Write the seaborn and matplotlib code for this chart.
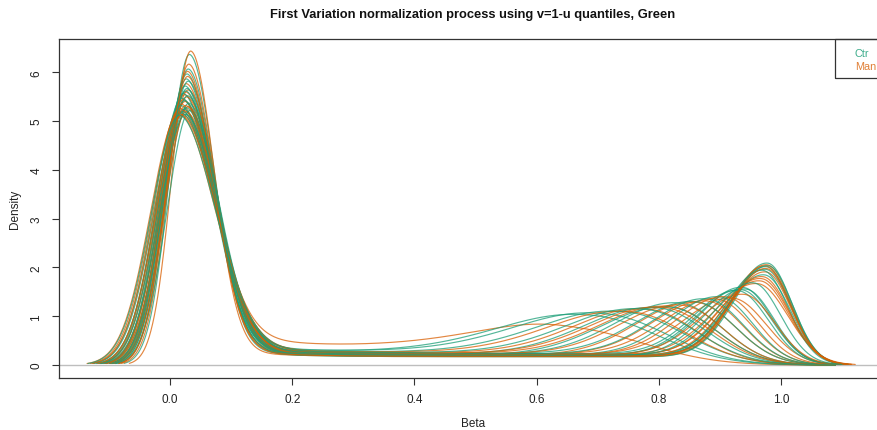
import numpy as np
import pandas as pd
import matplotlib
matplotlib.use("Agg")
import matplotlib.pyplot as plt
import seaborn as sns
from matplotlib.patches import Rectangle

# ---------------- data (per-sample density shape) ----
# Ctr samples
ctr_peak1_loc = [0.032, 0.030, 0.028, 0.027, 0.030, 0.025, 0.026, 0.022, 0.029, 0.020, 0.024,
                 0.031, 0.018, 0.027, 0.023, 0.033, 0.021, 0.019, 0.026, 0.016, 0.028]
ctr_peak1_height = [6.35, 6.05, 5.95, 5.85, 5.80, 5.70, 5.60, 5.55, 5.50, 5.45, 5.40,
                    5.35, 5.30, 5.25, 5.22, 5.20, 5.18, 5.15, 5.12, 5.10, 5.65]
ctr_peak1_width = [0.033, 0.035, 0.036, 0.037, 0.037, 0.038, 0.039, 0.040, 0.040, 0.042, 0.041,
                   0.039, 0.045, 0.041, 0.043, 0.038, 0.044, 0.045, 0.043, 0.047, 0.038]
ctr_peak2_loc = [0.978, 0.976, 0.975, 0.979, 0.973, 0.938, 0.935, 0.942, 0.930, 0.862, 0.835,
                 0.820, 0.750, 0.720, 0.700, 0.970, 0.900, 0.880, 0.800, 0.780, 0.955]
ctr_peak2_height = [2.03, 1.95, 1.90, 1.98, 1.78, 1.52, 1.48, 1.50, 1.45, 1.22, 1.20,
                    1.12, 1.00, 0.95, 0.92, 1.88, 1.33, 1.28, 1.10, 1.06, 1.62]
ctr_peak2_width = [0.040, 0.041, 0.042, 0.040, 0.043, 0.048, 0.050, 0.047, 0.050, 0.065, 0.070,
                   0.075, 0.095, 0.100, 0.105, 0.042, 0.055, 0.060, 0.080, 0.085, 0.045]
ctr_plateau = [0.18, 0.20, 0.19, 0.17, 0.21, 0.22, 0.20, 0.18, 0.23, 0.24, 0.22,
               0.20, 0.26, 0.28, 0.27, 0.19, 0.21, 0.23, 0.22, 0.25, 0.20]
ctr_tail = [0.30, 0.28, 0.32, 0.30, 0.35, 0.30, 0.33, 0.30, 0.36, 0.32, 0.30,
            0.34, 0.38, 0.40, 0.36, 0.30, 0.33, 0.35, 0.34, 0.37, 0.31]

# Mania samples
mania_peak1_loc = [0.034, 0.031, 0.029, 0.027, 0.030, 0.026, 0.024, 0.028, 0.022, 0.025,
                   0.020, 0.030, 0.017, 0.023, 0.027, 0.015, 0.021, 0.026, 0.019, 0.029]
mania_peak1_height = [6.42, 6.15, 6.00, 5.75, 5.62, 5.58, 5.52, 5.48, 5.42, 5.38,
                      5.32, 5.28, 5.24, 5.20, 5.17, 5.14, 5.12, 5.30, 5.10, 5.90]
mania_peak1_width = [0.031, 0.034, 0.035, 0.038, 0.038, 0.039, 0.040, 0.039, 0.042, 0.041,
                     0.043, 0.039, 0.046, 0.043, 0.041, 0.047, 0.044, 0.042, 0.046, 0.035]
mania_peak2_loc = [0.977, 0.975, 0.968, 0.966, 0.962, 0.922, 0.895, 0.862, 0.820, 0.786,
                   0.680, 0.975, 0.940, 0.880, 0.840, 0.760, 0.970, 0.910, 0.810, 0.976]
mania_peak2_height = [2.00, 1.97, 1.70, 1.66, 1.60, 1.30, 1.28, 1.22, 1.12, 1.06,
                      0.62, 1.85, 1.38, 1.24, 1.15, 1.00, 1.75, 1.33, 1.10, 1.92]
mania_peak2_width = [0.040, 0.041, 0.046, 0.047, 0.050, 0.055, 0.058, 0.065, 0.075, 0.080,
                     0.110, 0.042, 0.050, 0.060, 0.068, 0.090, 0.044, 0.055, 0.078, 0.041]
mania_plateau = [0.17, 0.19, 0.22, 0.20, 0.21, 0.22, 0.23, 0.20, 0.24, 0.25,
                 0.38, 0.18, 0.21, 0.22, 0.23, 0.26, 0.19, 0.21, 0.24, 0.18]
mania_tail = [0.28, 0.30, 0.33, 0.30, 0.32, 0.34, 0.31, 0.30, 0.35, 0.36,
              0.75, 0.30, 0.33, 0.34, 0.32, 0.38, 0.30, 0.33, 0.36, 0.29]

group_labels = ["Ctr", "Mania"]
group_colors = ["#1B9E77", "#D95F02"]
x_ticks = [0.0, 0.2, 0.4, 0.6, 0.8, 1.0]
y_ticks = [0, 1, 2, 3, 4, 5, 6]
title = "First Variation normalization process using v=1-u quantiles, Green"


def sig(z):
    return 1.0 / (1.0 + np.exp(-z))


def density_curve(m1, h1, sl, m2, h2, s2, b, c):
    x = np.linspace(-0.14, 1.13, 900)
    sr = sl * 1.25
    a1 = h1 - c
    p1 = np.where(x < m1, a1 * np.exp(-0.5 * ((x - m1) / sl) ** 2),
                  a1 * np.exp(-0.5 * ((x - m1) / sr) ** 2))
    tail = np.where(x < m1, c * np.exp(-0.5 * ((x - m1) / sl) ** 2),
                    c * np.exp(-(x - m1) / 0.08))
    plateau = b * sig((x - m1 - 0.06) / 0.025) * sig((m2 - 0.03 - x) / 0.04)
    p2 = np.where(x < m2, h2 * np.exp(-0.5 * ((x - m2) / (1.4 * s2)) ** 2),
                  h2 * np.exp(-0.5 * ((x - m2) / s2) ** 2))
    y = p1 + tail + plateau + p2
    start = x[np.argmax(y > 0.03)]
    end = min(1.125, max(1.09, m2 + 3.2 * s2))
    keep = (x >= start) & (x <= end)
    return x[keep], y[keep]


groups_params = {
    "Ctr": list(zip(ctr_peak1_loc, ctr_peak1_height, ctr_peak1_width, ctr_peak2_loc,
                    ctr_peak2_height, ctr_peak2_width, ctr_plateau, ctr_tail)),
    "Mania": list(zip(mania_peak1_loc, mania_peak1_height, mania_peak1_width, mania_peak2_loc,
                      mania_peak2_height, mania_peak2_width, mania_plateau, mania_tail)),
}
order = []
n = max(len(groups_params["Ctr"]), len(groups_params["Mania"]))
for i in range(n):
    for g in group_labels:
        if i < len(groups_params[g]):
            order.append((g, i))

curves = []
for g, i in order:
    xs, ys = density_curve(*groups_params[g][i])
    curves.append(pd.DataFrame({"Beta": xs, "Density": ys, "group": g,
                                "sample": f"{g}{i}"}))

# ---------------- plotting --------------------------------------------------
sns.set_style("white")
plt.rcParams["font.family"] = ["Liberation Sans", "DejaVu Sans"]

W, H = 878, 431
fig = plt.figure(figsize=(W / 100, H / 100), dpi=100)
L, R, T, B = 59, 887, 40, 379
ax = fig.add_axes([L / W, 1 - B / H, (R - L) / W, (B - T) / H])

ax.axhline(0, color="#BEBEBE", lw=1.0, zorder=0)

palette = dict(zip(group_labels, group_colors))
for df in curves:
    sns.lineplot(data=df, x="Beta", y="Density", color=palette[df["group"].iloc[0]],
                 estimator=None, sort=False, lw=0.85, alpha=0.75, ax=ax, legend=False)

ax.set_xlim((L - 170) / 611.0, (R - 170) / 611.0)
ax.set_ylim((366 - B) / 48.8, (366 - T) / 48.8)

ax.set_xticks(x_ticks)
ax.set_xticklabels([f"{v:.1f}" for v in x_ticks])
ax.set_yticks(y_ticks)
ax.set_yticklabels([str(v) for v in y_ticks], rotation=90, va="center")
ax.tick_params(axis="both", direction="out", length=5, width=0.8, color="#333333",
               labelsize=8.5, labelcolor="#222222", left=True, bottom=True)
ax.tick_params(axis="x", pad=6)
ax.tick_params(axis="y", pad=7)

for side in ["left", "bottom", "top", "right"]:
    ax.spines[side].set_color("#333333")
    ax.spines[side].set_linewidth(0.9)

ax.set_xlabel("")
ax.set_ylabel("")
fig.text(473 / W, 1 - 424 / H, "Beta", ha="center", va="center", fontsize=8.5, color="#222222")
fig.text(15 / W, 1 - 209 / H, "Density", ha="center", va="center", rotation=90,
         fontsize=8.5, color="#222222")
fig.text(473 / W, 1 - 15 / H, title, ha="center", va="center", fontsize=9.3,
         fontweight="bold", color="#111111")

# legend box (R style, text coloured, anchored at top-right of plot)
fig.patches.append(Rectangle((835 / W, 1 - 79 / H), (R - 835) / W, 39 / H,
                             transform=fig.transFigure, fill=False,
                             edgecolor="#333333", lw=0.9, zorder=5))
fig.text(855 / W, 1 - 54 / H, "Ctr", ha="left", va="center", fontsize=7.8,
         color="#1B9E77", alpha=0.85)
fig.text(855 / W, 1 - 67 / H, "Mania", ha="left", va="center", fontsize=7.8,
         color="#D95F02", alpha=0.8)

fig.savefig("out.png", dpi=100)
